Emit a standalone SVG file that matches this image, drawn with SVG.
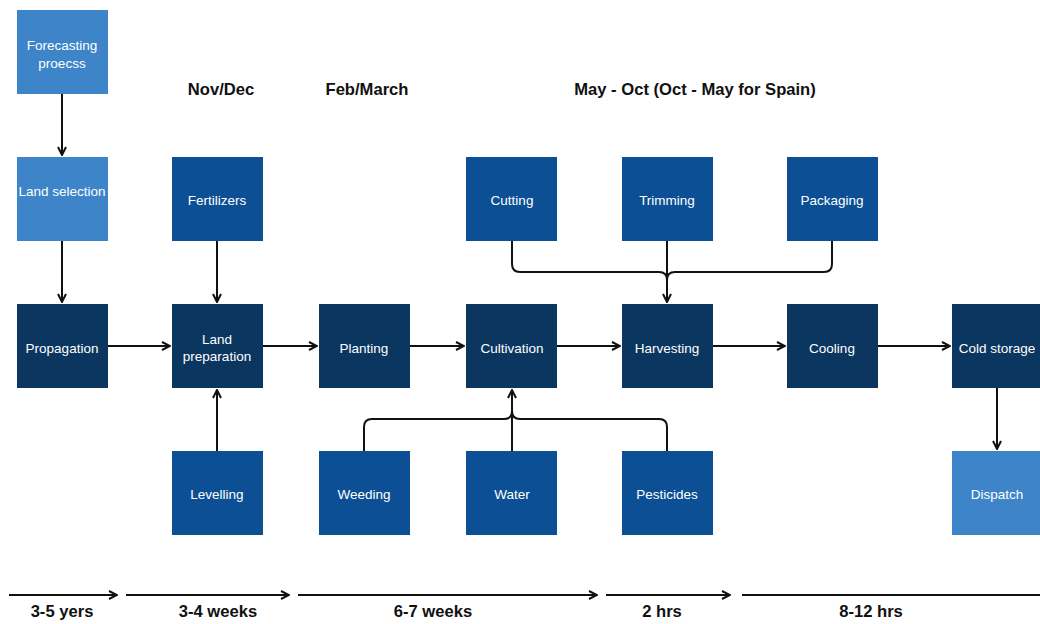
<svg xmlns="http://www.w3.org/2000/svg" width="1040" height="624" viewBox="0 0 1040 624">
  <style>
    .light { fill: #3d85c8; }
    .mid { fill: #0c4f94; }
    .dark { fill: #0b3660; }
    .lbl { font-family: "Liberation Sans", Arial, sans-serif; font-size: 13.5px; fill: #ffffff; text-anchor: middle; }
    .hdr { font-family: "Liberation Sans", Arial, sans-serif; font-size: 16.6px; font-weight: bold; fill: #111111; text-anchor: middle; }
    .ln { fill: none; stroke: #111111; stroke-width: 2; stroke-linejoin: round; }
  </style>
  <defs>
    <marker id="arr" viewBox="0 0 10 10" refX="9" refY="5" markerWidth="10" markerHeight="10" markerUnits="userSpaceOnUse" orient="auto">
      <path d="M1,1 L9,5 L1,9" fill="none" stroke="#111111" stroke-width="2" stroke-linejoin="miter"/>
    </marker>
  </defs>
  <rect width="1040" height="624" fill="#ffffff"/>

  <!-- period headings -->
  <g id="headings">
    <text class="hdr" x="221" y="95">Nov/Dec</text>
    <text class="hdr" x="367" y="95">Feb/March</text>
    <text class="hdr" x="695" y="95">May - Oct (Oct - May for Spain)</text>
  </g>

  <!-- connectors -->
  <g id="connectors">
    <line class="ln" x1="62" y1="94" x2="62" y2="155" marker-end="url(#arr)"/>
    <line class="ln" x1="62" y1="241" x2="62" y2="302" marker-end="url(#arr)"/>
    <line class="ln" x1="217" y1="241" x2="217" y2="302" marker-end="url(#arr)"/>
    <line class="ln" x1="217" y1="451" x2="217" y2="390" marker-end="url(#arr)"/>
    <line class="ln" x1="108" y1="346" x2="170" y2="346" marker-end="url(#arr)"/>
    <line class="ln" x1="263" y1="346" x2="317" y2="346" marker-end="url(#arr)"/>
    <line class="ln" x1="410" y1="346" x2="464" y2="346" marker-end="url(#arr)"/>
    <line class="ln" x1="557" y1="346" x2="620" y2="346" marker-end="url(#arr)"/>
    <line class="ln" x1="713" y1="346" x2="785" y2="346" marker-end="url(#arr)"/>
    <line class="ln" x1="878" y1="346" x2="950" y2="346" marker-end="url(#arr)"/>
    <line class="ln" x1="997" y1="388" x2="997" y2="449" marker-end="url(#arr)"/>
    <!-- brace from Cutting / Trimming / Packaging into Harvesting -->
    <path class="ln" d="M512,241 V264 Q512,272 520,272 H659 Q667,272 667,280"/>
    <path class="ln" d="M832,241 V264 Q832,272 824,272 H675 Q667,272 667,280"/>
    <line class="ln" x1="667" y1="241" x2="667" y2="302" marker-end="url(#arr)"/>
    <!-- brace from Weeding / Water / Pesticides into Cultivation -->
    <path class="ln" d="M364,451 V427 Q364,419 372,419 H504 Q512,419 512,411"/>
    <path class="ln" d="M667,451 V427 Q667,419 659,419 H520 Q512,419 512,411"/>
    <line class="ln" x1="512" y1="451" x2="512" y2="390" marker-end="url(#arr)"/>
    <!-- timeline -->
    <line class="ln" x1="9" y1="595" x2="117" y2="595" marker-end="url(#arr)"/>
    <line class="ln" x1="126" y1="595" x2="289" y2="595" marker-end="url(#arr)"/>
    <line class="ln" x1="298" y1="595" x2="597" y2="595" marker-end="url(#arr)"/>
    <line class="ln" x1="606" y1="595" x2="730" y2="595" marker-end="url(#arr)"/>
    <line class="ln" x1="742" y1="595" x2="1045" y2="595"/>
  </g>

  <!-- timeline labels -->
  <g id="durations">
    <text class="hdr" x="62" y="617">3-5 yers</text>
    <text class="hdr" x="218" y="617">3-4 weeks</text>
    <text class="hdr" x="433" y="617">6-7 weeks</text>
    <text class="hdr" x="662" y="617">2 hrs</text>
    <text class="hdr" x="871" y="617">8-12 hrs</text>
  </g>

  <!-- nodes -->
  <g id="forecasting"><rect class="light" x="17" y="10" width="91" height="84"/>
    <text class="lbl" x="62" y="50">Forecasting</text><text class="lbl" x="62" y="68">proecss</text></g>
  <g id="land-selection"><rect class="light" x="17" y="157" width="91" height="84"/>
    <text class="lbl" x="62" y="196">Land selection</text></g>
  <g id="fertilizers"><rect class="mid" x="172" y="157" width="91" height="84"/>
    <text class="lbl" x="217" y="205">Fertilizers</text></g>
  <g id="cutting"><rect class="mid" x="466" y="157" width="91" height="84"/>
    <text class="lbl" x="512" y="205">Cutting</text></g>
  <g id="trimming"><rect class="mid" x="622" y="157" width="91" height="84"/>
    <text class="lbl" x="667" y="205">Trimming</text></g>
  <g id="packaging"><rect class="mid" x="787" y="157" width="91" height="84"/>
    <text class="lbl" x="832" y="205">Packaging</text></g>

  <g id="propagation"><rect class="dark" x="17" y="304" width="91" height="84"/>
    <text class="lbl" x="62" y="353">Propagation</text></g>
  <g id="land-preparation"><rect class="dark" x="172" y="304" width="91" height="84"/>
    <text class="lbl" x="217" y="344">Land</text><text class="lbl" x="217" y="361">preparation</text></g>
  <g id="planting"><rect class="dark" x="319" y="304" width="91" height="84"/>
    <text class="lbl" x="364" y="353">Planting</text></g>
  <g id="cultivation"><rect class="dark" x="466" y="304" width="91" height="84"/>
    <text class="lbl" x="512" y="353">Cultivation</text></g>
  <g id="harvesting"><rect class="dark" x="622" y="304" width="91" height="84"/>
    <text class="lbl" x="667" y="353">Harvesting</text></g>
  <g id="cooling"><rect class="dark" x="787" y="304" width="91" height="84"/>
    <text class="lbl" x="832" y="353">Cooling</text></g>
  <g id="cold-storage"><rect class="dark" x="952" y="304" width="91" height="84"/>
    <text class="lbl" x="997" y="353">Cold storage</text></g>

  <g id="levelling"><rect class="mid" x="172" y="451" width="91" height="84"/>
    <text class="lbl" x="217" y="499">Levelling</text></g>
  <g id="weeding"><rect class="mid" x="319" y="451" width="91" height="84"/>
    <text class="lbl" x="364" y="499">Weeding</text></g>
  <g id="water"><rect class="mid" x="466" y="451" width="91" height="84"/>
    <text class="lbl" x="512" y="499">Water</text></g>
  <g id="pesticides"><rect class="mid" x="622" y="451" width="91" height="84"/>
    <text class="lbl" x="667" y="499">Pesticides</text></g>
  <g id="dispatch"><rect class="light" x="952" y="451" width="91" height="84"/>
    <text class="lbl" x="997" y="499">Dispatch</text></g>
</svg>
